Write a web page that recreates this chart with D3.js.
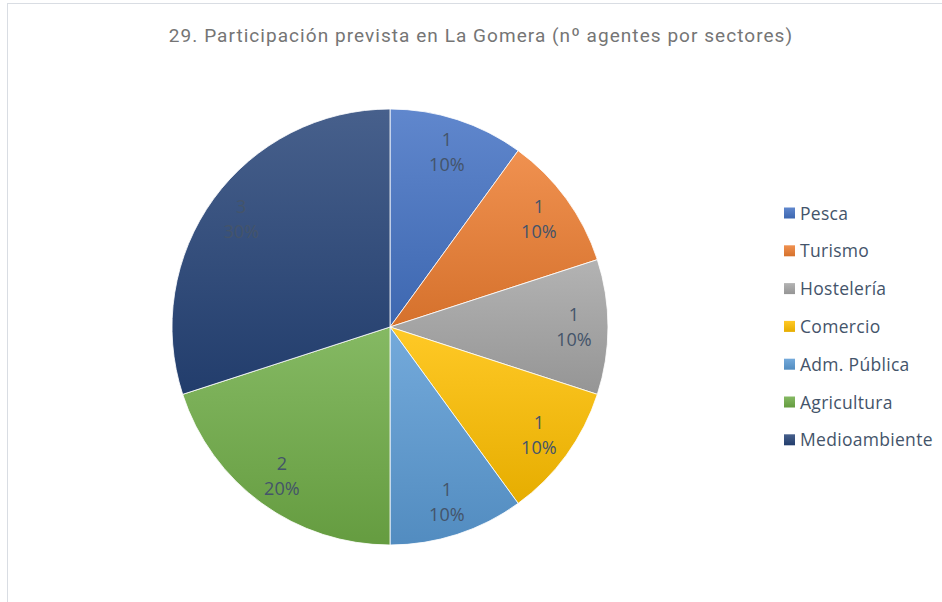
<!DOCTYPE html>
<html>
<head>
<meta charset="utf-8">
<script src="https://cdn.jsdelivr.net/npm/d3@7.9.0/dist/d3.min.js"></script>
<style>
  html, body { margin: 0; padding: 0; background: #fff; }
  svg { display: block; }
</style>
</head>
<body>
<div id="chart"></div>
<script>
const title = '29. Participación prevista en La Gomera (nº agentes por sectores)';
const sectors = ['Pesca', 'Turismo', 'Hostelería', 'Comercio', 'Adm. Pública', 'Agricultura', 'Medioambiente'];
const agents = [1, 1, 1, 1, 1, 2, 3];
const colors = ['#4472c4', '#ed7d31', '#a5a5a5', '#ffc000', '#5b9bd5', '#70ad47', '#264478'];

const width = 942;
const height = 602;
const cx = 390;
const cy = 327;
const radius = 218;

const svg = d3
  .select('#chart')
  .append('svg')
  .attr('width', width)
  .attr('height', height);

// chart frame, only left and top edges fall inside the window
svg
  .append('rect')
  .attr('x', 7.5)
  .attr('y', 3.5)
  .attr('width', 1000)
  .attr('height', 700)
  .attr('fill', '#fff')
  .attr('stroke', '#d9dde3')
  .attr('stroke-width', 1);

svg
  .append('text')
  .attr('x', 481)
  .attr('y', 42)
  .attr('text-anchor', 'middle')
  .attr('font-family', 'Roboto, sans-serif')
  .attr('font-size', 19)
  .attr('letter-spacing', 1.05)
  .attr('fill', '#757575')
  .text(title);

const data = sectors.map((name, i) => ({ name, value: agents[i], color: colors[i] }));
const total = d3.sum(agents);

const defs = svg.append('defs');
data.forEach((d, i) => {
  const g = defs
    .append('linearGradient')
    .attr('id', 'grad' + i)
    .attr('x1', 0)
    .attr('y1', 0)
    .attr('x2', 0)
    .attr('y2', 1);
  g.append('stop')
    .attr('offset', '0%')
    .attr('stop-color', d3.interpolateRgb(d.color, '#ffffff')(0.15));
  g.append('stop')
    .attr('offset', '100%')
    .attr('stop-color', d3.interpolateRgb(d.color, '#000000')(0.1));
});

const pie = d3.pie().value((d) => d.value).sort(null);
const arcs = pie(data);
const arc = d3.arc().innerRadius(0).outerRadius(radius);
const labelArc = d3.arc().innerRadius(184).outerRadius(184);

const g = svg.append('g').attr('transform', `translate(${cx},${cy})`);

g.selectAll('path')
  .data(arcs)
  .join('path')
  .attr('d', arc)
  .attr('fill', (d, i) => `url(#grad${i})`)
  .attr('stroke', '#fff')
  .attr('stroke-width', 0.8);

const labels = g
  .selectAll('text.lbl')
  .data(arcs)
  .join('text')
  .attr('class', 'lbl')
  .attr('transform', (d) => `translate(${labelArc.centroid(d)})`)
  .attr('text-anchor', 'middle')
  .attr('font-family', '"Open Sans", sans-serif')
  .attr('font-size', 18)
  .attr('fill', '#44546a');

labels
  .append('tspan')
  .attr('x', 0)
  .attr('y', -6)
  .text((d) => d.data.value);
labels
  .append('tspan')
  .attr('x', 0)
  .attr('y', 19)
  .text((d) => d3.format('.0%')(d.data.value / total));

const legend = svg
  .append('g')
  .attr('transform', 'translate(784, 213)');

const rowH = 37.8;
const items = legend
  .selectAll('g')
  .data(data)
  .join('g')
  .attr('transform', (d, i) => `translate(0, ${i * rowH})`);

items
  .append('rect')
  .attr('x', 0)
  .attr('y', -5.5)
  .attr('width', 11)
  .attr('height', 11)
  .attr('fill', (d, i) => `url(#grad${i})`);

items
  .append('text')
  .attr('x', 16)
  .attr('y', 6.5)
  .attr('font-family', '"Open Sans", sans-serif')
  .attr('font-size', 17.5)
  .attr('letter-spacing', 0.3)
  .attr('fill', '#44546a')
  .text((d) => d.name);
</script>
</body>
</html>
